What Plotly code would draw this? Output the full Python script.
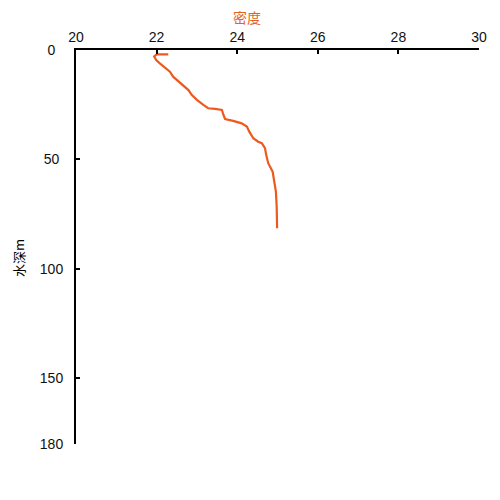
import plotly.graph_objects as go

density = [22.29, 22.0, 21.94, 21.99, 22.08, 22.21, 22.33, 22.41, 22.54, 22.66, 22.79, 22.87,
           23.0, 23.16, 23.28, 23.45, 23.62, 23.66, 23.70, 23.90, 24.11, 24.24, 24.30, 24.40,
           24.52, 24.61, 24.69, 24.72, 24.77, 24.88, 24.92, 24.96, 24.98, 24.99]
depth = [2.0, 2.0, 3.0, 4.6, 6.1, 8.1, 9.9, 12.2, 14.2, 16.3, 18.3, 20.5,
         22.8, 25.1, 26.6, 26.9, 27.4, 29.7, 31.5, 32.4, 33.5, 35.0, 37.3, 40.3,
         41.9, 42.6, 44.9, 48.0, 51.7, 55.6, 60.1, 64.7, 71.5, 81.4]

x_ticks = [20, 22, 24, 26, 28, 30]
y_ticks = [0, 50, 100, 150, 180]
y_tick_labels = ["0\u00a0\u00a0", "50\u00a0", "100", "150", "180"]

fig = go.Figure()
fig.add_trace(go.Scatter(x=density, y=depth, mode="lines",
                         line=dict(color="#EE5A1E", width=2.2), showlegend=False))

font = dict(family="Arial", size=14, color="#111111")

fig.update_layout(
    width=492, height=492,
    margin=dict(l=68, r=21, t=42, b=56),
    paper_bgcolor="white", plot_bgcolor="white",
    font=font,
    xaxis=dict(side="top", range=[20, 30], tickvals=x_ticks, ticks="inside", ticklen=4,
               tickwidth=2, tickcolor="black", showline=True, linecolor="black", linewidth=2,
               showgrid=False, zeroline=False, tickfont=font),
    yaxis=dict(range=[180, 0], tickvals=y_ticks, ticktext=y_tick_labels, ticks="inside",
               ticklen=4, tickwidth=2, ticklabelstandoff=8,
               tickcolor="black", showline=True, linecolor="black", linewidth=2,
               showgrid=False, zeroline=False, tickfont=font),
    annotations=[
        dict(text="密度", xref="paper", yref="paper", x=0.424, y=1, yshift=33,
             showarrow=False, font=dict(family="Noto Sans CJK SC", size=14, color="#E0642A"),
             xanchor="center", yanchor="middle"),
        dict(text="水深m", xref="paper", yref="paper", x=0, xshift=-58, y=0.472,
             textangle=-90, showarrow=False,
             font=dict(family="Noto Sans CJK SC", size=13, color="black"),
             xanchor="center", yanchor="middle"),
    ],
)

fig.write_html("out.html")
